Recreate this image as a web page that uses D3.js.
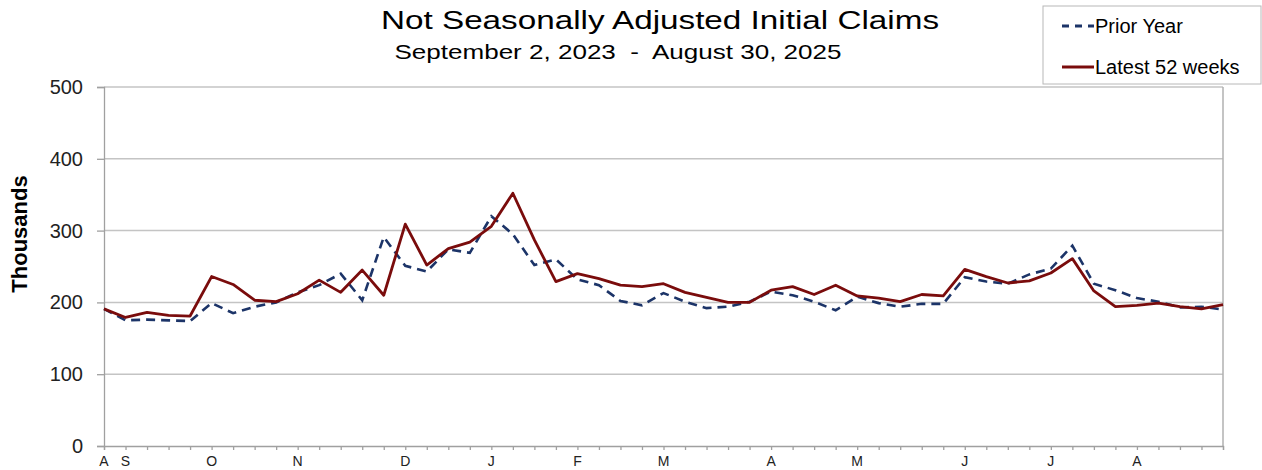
<!DOCTYPE html>
<html>
<head>
<meta charset="utf-8">
<script src="https://cdn.jsdelivr.net/npm/d3@7"></script>
<style>
  body { margin: 0; background: #fff; }
  text { font-family: "Liberation Sans", Arial, sans-serif; }
</style>
</head>
<body>
<svg id="chart" width="1262" height="470"></svg>
<script>
// week index 0..52, month letters placed on the first week of each month
var monthTicks = [0, 1, 5, 9, 14, 18, 22, 26, 31, 35, 40, 44, 48];
var monthLabels = ['A', 'S', 'O', 'N', 'D', 'J', 'F', 'M', 'A', 'M', 'J', 'J', 'A'];

var priorYear = [191, 175, 176, 175, 174, 199, 185, 194, 200, 214, 224, 240, 203, 291,
  251, 243, 274, 269, 320, 295, 252, 260, 232, 224, 202, 196, 213,
  201, 192, 194, 201, 215, 210, 201, 189, 208, 199, 194, 198, 198,
  235, 229, 226, 239, 247, 279, 226, 217, 206, 201, 193, 194, 190];

var latest = [191, 179, 186, 182, 181, 236, 225, 203, 201, 212, 231, 214, 245, 210,
  309, 252, 275, 284, 306, 352, 287, 229, 240, 233, 224, 222, 226,
  214, 207, 200, 200, 217, 222, 211, 224, 209, 206, 201, 211, 209,
  246, 236, 227, 230, 241, 261, 216, 194, 196, 199, 194, 191, 197];

var yTicks = [0, 100, 200, 300, 400, 500];

var svg = d3.select('#chart');
var plotLeft = 104, plotRight = 1223, plotTop = 87, plotBottom = 446;

var x = d3.scaleLinear().domain([0, latest.length - 1]).range([plotLeft, plotRight]);
var y = d3.scaleLinear().domain([0, 500]).range([plotBottom, plotTop]);

// gridlines
svg.append('g').selectAll('line')
    .data(yTicks.slice(1))
    .enter().append('line')
    .attr('x1', plotLeft).attr('x2', plotRight)
    .attr('y1', function(d){ return y(d); })
    .attr('y2', function(d){ return y(d); })
    .style('stroke', '#c4c4c4')
    .style('stroke-width', 1.5);

// right border
svg.append('line')
    .attr('x1', plotRight).attr('x2', plotRight)
    .attr('y1', plotTop).attr('y2', plotBottom)
    .style('stroke', '#b0b0b0').style('stroke-width', 1.5);

// y axis
var yAxis = svg.append('g')
    .attr('transform', 'translate(' + plotLeft + ',0)')
    .call(d3.axisLeft(y).tickValues(yTicks).tickSize(7).tickPadding(14));
yAxis.selectAll('text')
    .style('font-size', '20px')
    .style('font-family', '"Liberation Sans", Arial, sans-serif')
    .style('fill', '#222');

// x axis, a tick for every week
var xAxis = svg.append('g')
    .attr('transform', 'translate(0,' + plotBottom + ')')
    .call(d3.axisBottom(x).tickValues(d3.range(latest.length)).tickSize(4).tickFormat(''));

svg.selectAll('.domain, .tick line')
    .style('stroke', '#a0a0a0').style('stroke-width', 1.3);

svg.append('g').selectAll('text')
    .data(monthTicks)
    .enter().append('text')
    .attr('x', function(d){ return x(d); })
    .attr('y', 466)
    .attr('text-anchor', 'middle')
    .style('font-size', '14px')
    .style('fill', '#222')
    .text(function(d, i){ return monthLabels[i]; });

// lines
var line = d3.line()
    .x(function(d, i){ return x(i); })
    .y(function(d){ return y(d); });

svg.append('path')
    .datum(priorYear)
    .attr('d', line)
    .style('fill', 'none')
    .style('stroke', '#1c3468')
    .style('stroke-width', 2.6)
    .style('stroke-dasharray', '9,6');

svg.append('path')
    .datum(latest)
    .attr('d', line)
    .style('fill', 'none')
    .style('stroke', '#7a0c0c')
    .style('stroke-width', 2.8)
    .style('stroke-linejoin', 'round');

// titles
svg.append('text')
    .attr('x', 660).attr('y', 29)
    .attr('text-anchor', 'middle')
    .style('font-size', '25px')
    .attr('textLength', 558)
    .attr('lengthAdjust', 'spacingAndGlyphs')
    .text('Not Seasonally Adjusted Initial Claims');

svg.append('text')
    .attr('x', 618).attr('y', 59)
    .attr('text-anchor', 'middle')
    .style('font-size', '21px')
    .attr('textLength', 447)
    .attr('lengthAdjust', 'spacingAndGlyphs')
    .style('white-space', 'pre')
    .text('September 2, 2023  -  August 30, 2025');

svg.append('text')
    .attr('transform', 'translate(27,234) rotate(-90)')
    .attr('text-anchor', 'middle')
    .style('font-size', '22px')
    .style('font-weight', 'bold')
    .text('Thousands');

// legend
var legend = svg.append('g');
legend.append('rect')
    .attr('x', 1043).attr('y', 6).attr('width', 218).attr('height', 78)
    .style('fill', '#fff').style('stroke', '#b8b8b8').style('stroke-width', 1);

var legendItems = [
    {name: 'Prior Year', color: '#1c3468', dash: '7,6', y: 26},
    {name: 'Latest 52 weeks', color: '#7a0c0c', dash: null, y: 67}
];
legend.selectAll('line')
    .data(legendItems)
    .enter().append('line')
    .attr('x1', 1062).attr('x2', 1094)
    .attr('y1', function(d){ return d.y; })
    .attr('y2', function(d){ return d.y; })
    .style('stroke', function(d){ return d.color; })
    .style('stroke-width', 3)
    .style('stroke-dasharray', function(d){ return d.dash; });
legend.selectAll('text')
    .data(legendItems)
    .enter().append('text')
    .attr('x', 1095)
    .attr('y', function(d){ return d.y + 7; })
    .style('font-size', '20px')
    .text(function(d){ return d.name; });
</script>
</body>
</html>
